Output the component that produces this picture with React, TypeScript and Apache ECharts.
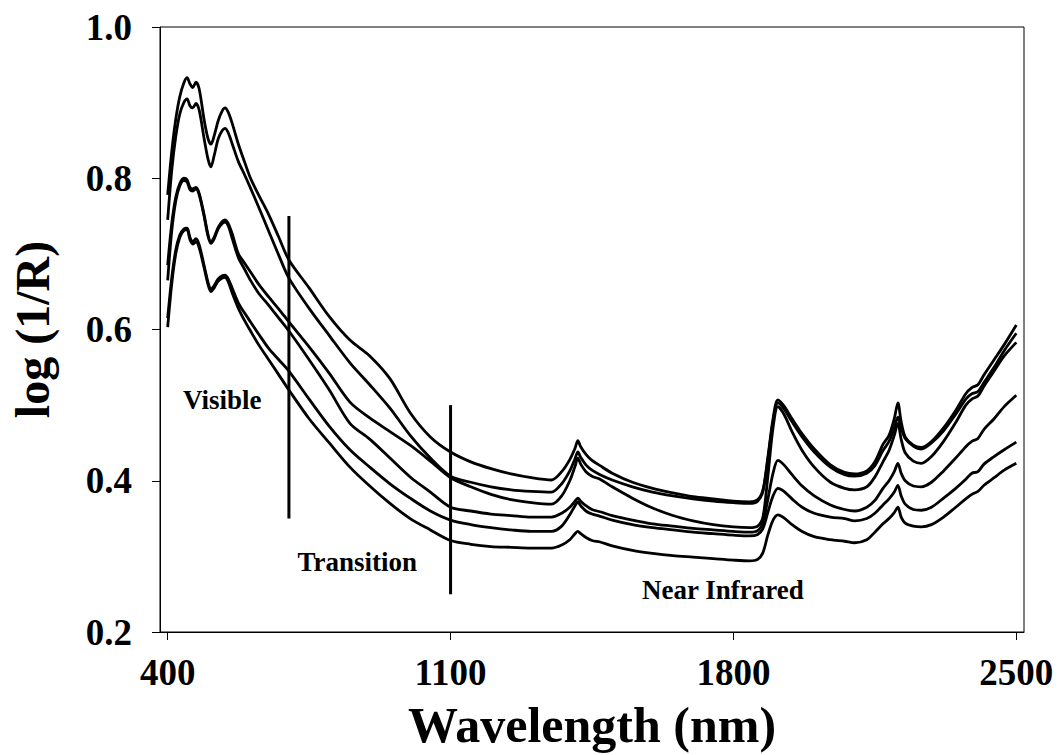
import React, { useEffect, useRef } from "react";
import * as echarts from "echarts";

const wavelengths = [
  400, 410, 420, 430, 440, 448, 455, 462, 470, 478, 490, 500, 507, 515, 525, 535, 542, 550, 560, 575,
  590, 605, 625, 650, 675, 700, 750, 800, 851, 900, 950, 1000, 1050, 1100, 1150, 1200, 1250, 1300, 1350, 1375,
  1395, 1408, 1415, 1422, 1435, 1450, 1470, 1500, 1550, 1600, 1650, 1700, 1750, 1800, 1840, 1860, 1873, 1885, 1898, 1910,
  1925, 1945, 1970, 2000, 2040, 2075, 2100, 2130, 2150, 2170, 2185, 2198, 2207, 2215, 2225, 2245, 2265, 2290, 2320, 2350,
  2375, 2390, 2405, 2420, 2445, 2470, 2500,
];

const spectrumA = [
  0.778, 0.835, 0.878, 0.908, 0.926, 0.933, 0.925, 0.92, 0.927, 0.918, 0.878, 0.852, 0.845, 0.856, 0.876, 0.889, 0.893, 0.887, 0.872, 0.845,
  0.822, 0.8, 0.778, 0.752, 0.722, 0.692, 0.655, 0.617, 0.586, 0.565, 0.535, 0.49, 0.458, 0.438, 0.425, 0.416, 0.409, 0.404, 0.401, 0.412,
  0.428, 0.443, 0.453, 0.445, 0.435, 0.427, 0.42, 0.41, 0.398, 0.39, 0.384, 0.379, 0.376, 0.373, 0.372, 0.375, 0.388, 0.43, 0.482, 0.507,
  0.499, 0.482, 0.462, 0.442, 0.421, 0.411, 0.409, 0.413, 0.425, 0.448, 0.46, 0.482, 0.503, 0.478, 0.458, 0.447, 0.444, 0.452, 0.47, 0.493,
  0.515, 0.523, 0.527, 0.54, 0.56, 0.58, 0.606,
];
const spectrumB = [
  0.745, 0.81, 0.855, 0.885, 0.9, 0.905, 0.896, 0.893, 0.899, 0.89, 0.853, 0.825, 0.815, 0.83, 0.852, 0.863, 0.866, 0.86, 0.845, 0.822,
  0.805, 0.787, 0.762, 0.73, 0.698, 0.668, 0.628, 0.592, 0.556, 0.527, 0.496, 0.46, 0.43, 0.406, 0.398, 0.392, 0.388, 0.386, 0.385, 0.396,
  0.413, 0.429, 0.438, 0.431, 0.421, 0.414, 0.408, 0.401, 0.392, 0.385, 0.38, 0.376, 0.373, 0.371, 0.37, 0.373, 0.386, 0.428, 0.478, 0.503,
  0.495, 0.478, 0.458, 0.438, 0.418, 0.408, 0.406, 0.41, 0.42, 0.44, 0.452, 0.47, 0.484, 0.47, 0.456, 0.446, 0.442, 0.45, 0.466, 0.488,
  0.508, 0.515, 0.518, 0.53, 0.55, 0.572, 0.595,
];
const spectrumC = [
  0.685, 0.74, 0.775, 0.793, 0.8, 0.798, 0.788, 0.786, 0.788, 0.78, 0.752, 0.725, 0.716, 0.722, 0.735, 0.743, 0.745, 0.74, 0.726, 0.7,
  0.688, 0.676, 0.66, 0.643, 0.627, 0.61, 0.577, 0.542, 0.504, 0.483, 0.465, 0.447, 0.426, 0.404, 0.392, 0.382, 0.375, 0.371, 0.369, 0.38,
  0.4, 0.419, 0.43, 0.422, 0.412, 0.406, 0.402, 0.392, 0.377, 0.364, 0.354, 0.347, 0.342, 0.339, 0.338, 0.34, 0.352, 0.405, 0.47, 0.498,
  0.488, 0.465, 0.44, 0.418, 0.398, 0.39, 0.388, 0.392, 0.405, 0.425, 0.44, 0.46, 0.476, 0.455, 0.437, 0.426, 0.423, 0.432, 0.452, 0.477,
  0.5, 0.508, 0.512, 0.525, 0.545, 0.565, 0.583,
];
const spectrumD = [
  0.665, 0.73, 0.77, 0.79, 0.797, 0.795, 0.785, 0.783, 0.786, 0.778, 0.75, 0.723, 0.714, 0.72, 0.733, 0.74, 0.742, 0.737, 0.72, 0.695,
  0.68, 0.665, 0.648, 0.632, 0.615, 0.598, 0.56, 0.52, 0.476, 0.455, 0.43, 0.405, 0.385, 0.365, 0.36, 0.356, 0.354, 0.352, 0.352, 0.357,
  0.365, 0.373, 0.377, 0.373, 0.367, 0.362, 0.359, 0.354, 0.348, 0.343, 0.34, 0.337, 0.335, 0.333, 0.332, 0.334, 0.345, 0.375, 0.41, 0.427,
  0.421, 0.408, 0.393, 0.38, 0.368, 0.362, 0.36, 0.365, 0.374, 0.39, 0.4, 0.412, 0.423, 0.41, 0.4, 0.393, 0.392, 0.398, 0.413, 0.43,
  0.445, 0.452, 0.456, 0.468, 0.482, 0.498, 0.513,
];
const spectrumE = [
  0.615, 0.668, 0.705, 0.725, 0.733, 0.734, 0.722, 0.716, 0.72, 0.712, 0.685, 0.662, 0.653, 0.658, 0.667, 0.671, 0.672, 0.667, 0.654, 0.635,
  0.622, 0.61, 0.594, 0.575, 0.56, 0.545, 0.508, 0.472, 0.441, 0.418, 0.396, 0.377, 0.36, 0.348, 0.342, 0.338, 0.335, 0.333, 0.333, 0.34,
  0.355, 0.367, 0.372, 0.367, 0.36, 0.356, 0.353, 0.348, 0.342, 0.338, 0.335, 0.332, 0.33, 0.328, 0.327, 0.329, 0.337, 0.358, 0.38, 0.39,
  0.386, 0.376, 0.365, 0.357, 0.352, 0.35, 0.347, 0.35, 0.357, 0.368, 0.376, 0.385, 0.394, 0.38, 0.369, 0.362, 0.361, 0.365, 0.377, 0.39,
  0.402, 0.41, 0.412, 0.422, 0.432, 0.441, 0.451,
];
const spectrumF = [
  0.603, 0.66, 0.7, 0.722, 0.731, 0.732, 0.719, 0.713, 0.716, 0.708, 0.682, 0.659, 0.65, 0.655, 0.664, 0.668, 0.669, 0.663, 0.648, 0.628,
  0.612, 0.598, 0.58, 0.56, 0.54, 0.52, 0.482, 0.45, 0.418, 0.393, 0.37, 0.35, 0.335, 0.321, 0.316, 0.313, 0.312, 0.311, 0.311, 0.315,
  0.322, 0.33, 0.333, 0.33, 0.325, 0.321, 0.319, 0.314, 0.308, 0.304, 0.301, 0.299, 0.297, 0.295, 0.294, 0.296, 0.305, 0.328, 0.348, 0.355,
  0.351, 0.342, 0.333, 0.326, 0.322, 0.32, 0.318, 0.322, 0.332, 0.343, 0.35, 0.358, 0.365, 0.352, 0.344, 0.34, 0.339, 0.342, 0.352, 0.365,
  0.376, 0.382, 0.386, 0.394, 0.404, 0.414, 0.423,
];

const spectra = [spectrumA, spectrumB, spectrumC, spectrumD, spectrumE, spectrumF];

const xTicks = [400, 1100, 1800, 2500];

// region boundary markers: [wavelength, from, to]
const boundaries = [
  [700, 0.35, 0.75],
  [1100, 0.25, 0.5],
];

const regionLabels = ["Visible", "Transition", "Near Infrared"];
const regionLabelX = [535, 869, 1774];
const regionLabelY = [0.507, 0.293, 0.256];

const FONT = "'Times New Roman', 'Liberation Serif', serif";

export default function App() {
  const ref = useRef<HTMLDivElement>(null);

  useEffect(() => {
    document.body.style.margin = "0";
    const chart = echarts.init(ref.current!, null, { renderer: "svg" });

    const series: any[] = spectra.map((vals, i) => ({
      name: "spectrum" + (i + 1),
      type: "line",
      data: wavelengths.map((w, j) => [w, vals[j]]),
      showSymbol: false,
      smooth: 0.3,
      lineStyle: { color: "#000", width: 2.8 },
      silent: true,
    }));

    boundaries.forEach((b, i) => {
      series.push({
        name: "boundary" + (i + 1),
        type: "line",
        data: [
          [b[0], b[1]],
          [b[0], b[2]],
        ],
        showSymbol: false,
        lineStyle: { color: "#000", width: 3 },
        silent: true,
      });
    });

    series.push({
      name: "regions",
      type: "scatter",
      symbolSize: 0,
      silent: true,
      itemStyle: { opacity: 1, color: "#000" },
      data: regionLabels.map((n, i) => ({ name: n, value: [regionLabelX[i], regionLabelY[i]] })),
      label: {
        show: true,
        position: "inside",
        formatter: "{b}",
        fontFamily: FONT,
        fontWeight: "bold",
        fontSize: 27,
        color: "#000",
        opacity: 1,
        textBorderWidth: 0,
      },
    });

    chart.setOption({
      animation: false,
      backgroundColor: "#fff",
      grid: {
        left: 160,
        right: 34,
        top: 27,
        bottom: 123,
        show: true,
        borderColor: "#000",
        borderWidth: 1,
        backgroundColor: "transparent",
      },
      xAxis: {
        type: "value",
        min: 381,
        max: 2519,
        name: "Wavelength (nm)",
        nameLocation: "middle",
        nameGap: 68,
        nameTextStyle: { fontFamily: FONT, fontWeight: "bold", fontSize: 50, color: "#000" },
        axisLine: { show: true, lineStyle: { color: "#000", width: 1 } },
        axisTick: { show: true, customValues: xTicks, length: 8, inside: false, lineStyle: { color: "#000" } },
        axisLabel: {
          customValues: xTicks,
          margin: 22,
          fontFamily: FONT,
          fontWeight: "bold",
          fontSize: 37,
          color: "#000",
          formatter: (v: number) => String(v),
        },
        splitLine: { show: false },
      },
      yAxis: {
        type: "value",
        min: 0.2,
        max: 1.0,
        interval: 0.2,
        name: "log (1/R)",
        nameLocation: "middle",
        nameGap: 104,
        nameTextStyle: { fontFamily: FONT, fontWeight: "bold", fontSize: 48, color: "#000" },
        axisLine: { show: true, lineStyle: { color: "#000", width: 1 } },
        axisTick: { show: true, length: 8, inside: false, lineStyle: { color: "#000" } },
        axisLabel: {
          margin: 28,
          fontFamily: FONT,
          fontWeight: "bold",
          fontSize: 37,
          color: "#000",
          formatter: (v: number) => v.toFixed(1),
        },
        splitLine: { show: false },
      },
      series,
    });

    return () => chart.dispose();
  }, []);

  return <div ref={ref} style={{ width: 1058, height: 755 }} />;
}
